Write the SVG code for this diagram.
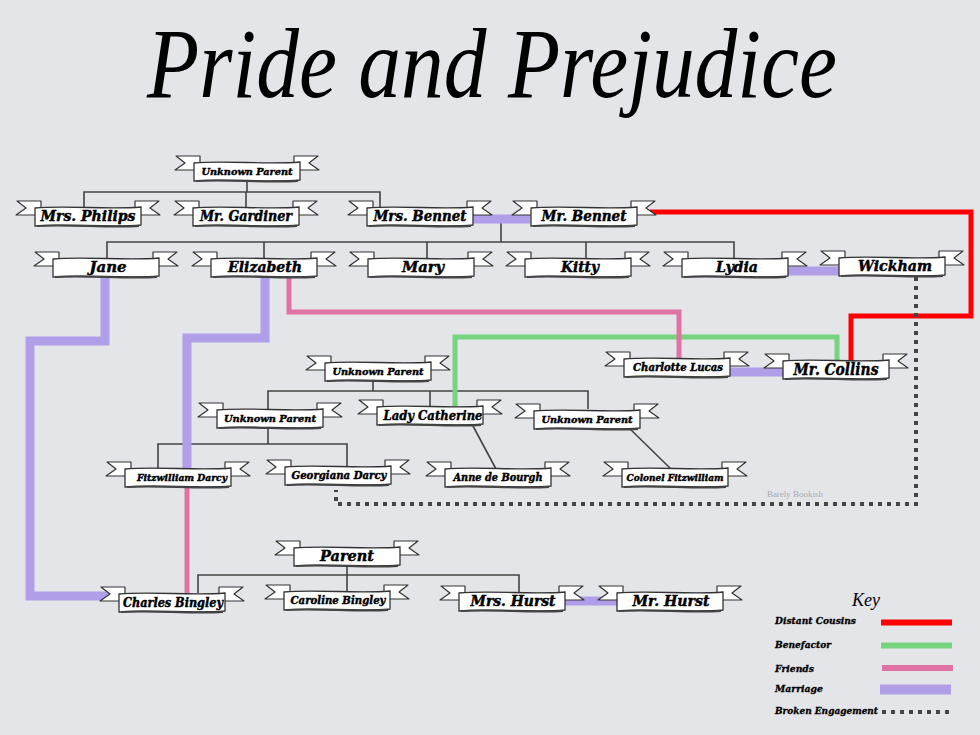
<svg xmlns="http://www.w3.org/2000/svg" xmlns:xlink="http://www.w3.org/1999/xlink" width="980" height="735" viewBox="0 0 980 735">
<style>
.bg{fill:#e4e5e9}
.tree{fill:none;stroke:#444;stroke-width:1.6}
.red{fill:none;stroke:#ff0000;stroke-width:5}
.green{fill:none;stroke:#77d47e;stroke-width:5}
.pink{fill:none;stroke:#e072a4;stroke-width:5}
.purple{fill:none;stroke:#b09ee8;stroke-width:9}
.dots{fill:none;stroke:#444;stroke-width:4;stroke-dasharray:4 5}
.tail{fill:#fff;stroke:#333;stroke-width:1.2;stroke-linejoin:round}
.body{fill:#fff;stroke:#333;stroke-width:1.3}
.shade{fill:none;stroke:#444;stroke-width:2}
.fold{fill:#555}
.nm{font-family:"DejaVu Serif","Liberation Serif",serif;font-weight:bold;font-style:italic;text-anchor:middle;fill:#000;stroke:#000;stroke-width:0.45}
.key{font-family:"DejaVu Serif","Liberation Serif",serif;font-weight:bold;font-style:italic;font-size:9.5px;fill:#000;stroke:#000;stroke-width:0.3}
.title{font-family:"Liberation Serif","DejaVu Serif",serif;font-style:italic;fill:#000}
</style>
<defs>
<g id="banner">
<path class="tail" d="M-47,-15 L-71,-15 L-62,-8 L-72,-1 L-47,-1 Z"/>
<path class="tail" d="M47,-15 L71,-15 L62,-8 L72,-1 L47,-1 Z"/>
<path class="fold" d="M-53,-1 L-47,-1 L-47,4 Z"/>
<path class="fold" d="M53,-1 L47,-1 L47,4 Z"/>
<path class="body" d="M-53,-8 C-20,-11 20,-6 53,-9 L53,9 C20,12 -20,7 -53,10 Z"/>
<path class="shade" d="M-51,10 C-20,8 20,12 51,10"/>
</g>
</defs>
<rect class="bg" x="0" y="0" width="980" height="735"/>
<text class="title" x="492" y="97" font-size="100" textLength="690" lengthAdjust="spacingAndGlyphs" text-anchor="middle">Pride and Prejudice</text>

<g id="connectors">
<path class="tree" d="M247,179 V192 M84,207 V192 H380 V207 M246,192 V207"/>
<path class="tree" d="M501,219 V242 M107,258 V242 H734 V258 M264,242 V258 M427,242 V258 M586,242 V258"/>
<path class="tree" d="M373,380 V391 M268,409 V391 H588 V409 M430,391 V406"/>
<path class="tree" d="M268,427 V444 M158,470 V444 H347 V468"/>
<path class="tree" d="M473,426 L496,469 M627,426 L671,469"/>
<path class="tree" d="M347,565 V575 M198,593 V575 H519 V592 M347,575 V592"/>
<path class="purple" d="M470,219 H530"/>
<path class="purple" d="M786,271 H840"/>
<path class="purple" d="M727,372 H783"/>
<path class="purple" d="M557,601 H618"/>
<path class="purple" d="M105,277 V341 H30 V596 H120"/>
<path class="purple" d="M265,277 V338 H187 V470"/>
<path class="red" d="M650,212 H971 V316 H851 V362"/>
<path class="green" d="M455,408 V337 H837 V362"/>
<path class="pink" d="M289,277 V312 H679 V360"/>
<path class="pink" d="M187,485 V593"/>
<path class="dots" d="M916,277 V504 H336 V490"/>
</g>

<g id="n-unknown-top"><use href="#banner" x="247" y="171"/><text class="nm" x="247" y="175" font-size="10" textLength="91" lengthAdjust="spacingAndGlyphs">Unknown Parent</text></g>
<g id="n-mrs-philips"><use href="#banner" x="88" y="216"/><text class="nm" x="88" y="221" font-size="14" textLength="95" lengthAdjust="spacingAndGlyphs">Mrs. Philips</text></g>
<g id="n-mr-gardiner"><use href="#banner" x="246" y="216"/><text class="nm" x="246" y="221" font-size="14" textLength="92" lengthAdjust="spacingAndGlyphs">Mr. Gardiner</text></g>
<g id="n-mrs-bennet"><use href="#banner" x="420" y="216"/><text class="nm" x="420" y="221" font-size="14" textLength="93" lengthAdjust="spacingAndGlyphs">Mrs. Bennet</text></g>
<g id="n-mr-bennet"><use href="#banner" x="584" y="216"/><text class="nm" x="584" y="221" font-size="14" textLength="85" lengthAdjust="spacingAndGlyphs">Mr. Bennet</text></g>
<g id="n-jane"><use href="#banner" x="106" y="267"/><text class="nm" x="108" y="272" font-size="14" textLength="37" lengthAdjust="spacingAndGlyphs">Jane</text></g>
<g id="n-elizabeth"><use href="#banner" x="264" y="267"/><text class="nm" x="265" y="272" font-size="14" textLength="74" lengthAdjust="spacingAndGlyphs">Elizabeth</text></g>
<g id="n-mary"><use href="#banner" x="421" y="267"/><text class="nm" x="423" y="272" font-size="14" textLength="42" lengthAdjust="spacingAndGlyphs">Mary</text></g>
<g id="n-kitty"><use href="#banner" x="578" y="267"/><text class="nm" x="580" y="272" font-size="14" textLength="38" lengthAdjust="spacingAndGlyphs">Kitty</text></g>
<g id="n-lydia"><use href="#banner" x="735" y="267"/><text class="nm" x="737" y="272" font-size="14" textLength="42" lengthAdjust="spacingAndGlyphs">Lydia</text></g>
<g id="n-wickham"><use href="#banner" x="892" y="266"/><text class="nm" x="895" y="271" font-size="14" textLength="74" lengthAdjust="spacingAndGlyphs">Wickham</text></g>
<g id="n-charlotte"><use href="#banner" x="677" y="367"/><text class="nm" x="678" y="371" font-size="11" textLength="90" lengthAdjust="spacingAndGlyphs">Charlotte Lucas</text></g>
<g id="n-collins"><use href="#banner" x="836" y="369"/><text class="nm" x="836" y="375" font-size="16" textLength="85" lengthAdjust="spacingAndGlyphs">Mr. Collins</text></g>
<g id="n-unknown-mid"><use href="#banner" x="378" y="371"/><text class="nm" x="378" y="375" font-size="10" textLength="91" lengthAdjust="spacingAndGlyphs">Unknown Parent</text></g>
<g id="n-unknown-left"><use href="#banner" x="270" y="418"/><text class="nm" x="270" y="422" font-size="10" textLength="92" lengthAdjust="spacingAndGlyphs">Unknown Parent</text></g>
<g id="n-lady-catherine"><use href="#banner" x="430" y="415"/><text class="nm" x="433" y="420" font-size="13" textLength="99" lengthAdjust="spacingAndGlyphs">Lady Catherine</text></g>
<g id="n-unknown-right"><use href="#banner" x="587" y="419"/><text class="nm" x="587" y="423" font-size="10" textLength="91" lengthAdjust="spacingAndGlyphs">Unknown Parent</text></g>
<g id="n-darcy"><use href="#banner" x="178" y="477"/><text class="nm" x="182" y="481" font-size="10" textLength="90" lengthAdjust="spacingAndGlyphs">Fitzwilliam Darcy</text></g>
<g id="n-georgiana"><use href="#banner" x="338" y="475"/><text class="nm" x="339" y="479" font-size="11" textLength="95" lengthAdjust="spacingAndGlyphs">Georgiana Darcy</text></g>
<g id="n-anne"><use href="#banner" x="498" y="477"/><text class="nm" x="498" y="481" font-size="11" textLength="89" lengthAdjust="spacingAndGlyphs">Anne de Bourgh</text></g>
<g id="n-colonel"><use href="#banner" x="675" y="477"/><text class="nm" x="675" y="481" font-size="10" textLength="97" lengthAdjust="spacingAndGlyphs">Colonel Fitzwilliam</text></g>
<g id="n-parent"><use href="#banner" x="347" y="556"/><text class="nm" x="347" y="561" font-size="14" textLength="54" lengthAdjust="spacingAndGlyphs">Parent</text></g>
<g id="n-charles"><use href="#banner" x="172" y="602"/><text class="nm" x="173" y="607" font-size="12" textLength="100" lengthAdjust="spacingAndGlyphs">Charles Bingley</text></g>
<g id="n-caroline"><use href="#banner" x="337" y="600"/><text class="nm" x="338" y="604" font-size="11" textLength="95" lengthAdjust="spacingAndGlyphs">Caroline Bingley</text></g>
<g id="n-mrs-hurst"><use href="#banner" x="512" y="601"/><text class="nm" x="513" y="606" font-size="14" textLength="85" lengthAdjust="spacingAndGlyphs">Mrs. Hurst</text></g>
<g id="n-mr-hurst"><use href="#banner" x="670" y="601"/><text class="nm" x="671" y="606" font-size="14" textLength="77" lengthAdjust="spacingAndGlyphs">Mr. Hurst</text></g>

<text x="795" y="497" font-family="Liberation Serif, serif" font-size="9" fill="#aaa" text-anchor="middle">Barely Bookish</text>

<g id="key">
<text class="title" x="866" y="606" font-size="18" text-anchor="middle">Key</text>
<text class="key" x="775" y="624" textLength="81" lengthAdjust="spacingAndGlyphs">Distant Cousins</text>
<text class="key" x="775" y="648" textLength="56" lengthAdjust="spacingAndGlyphs">Benefactor</text>
<text class="key" x="775" y="672" textLength="39" lengthAdjust="spacingAndGlyphs">Friends</text>
<text class="key" x="775" y="692" textLength="48" lengthAdjust="spacingAndGlyphs">Marriage</text>
<text class="key" x="775" y="714" textLength="103" lengthAdjust="spacingAndGlyphs">Broken Engagement</text>
<path d="M881,622.5 H952" stroke="#ff0000" stroke-width="6"/>
<path d="M881,645.5 H952" stroke="#77d47e" stroke-width="6"/>
<path d="M882,668 H953" stroke="#e072a4" stroke-width="6"/>
<path d="M880,689.5 H951" stroke="#b09ee8" stroke-width="10"/>
<path d="M882,712 H952" stroke="#444" stroke-width="4" stroke-dasharray="4 5"/>
</g>
</svg>
